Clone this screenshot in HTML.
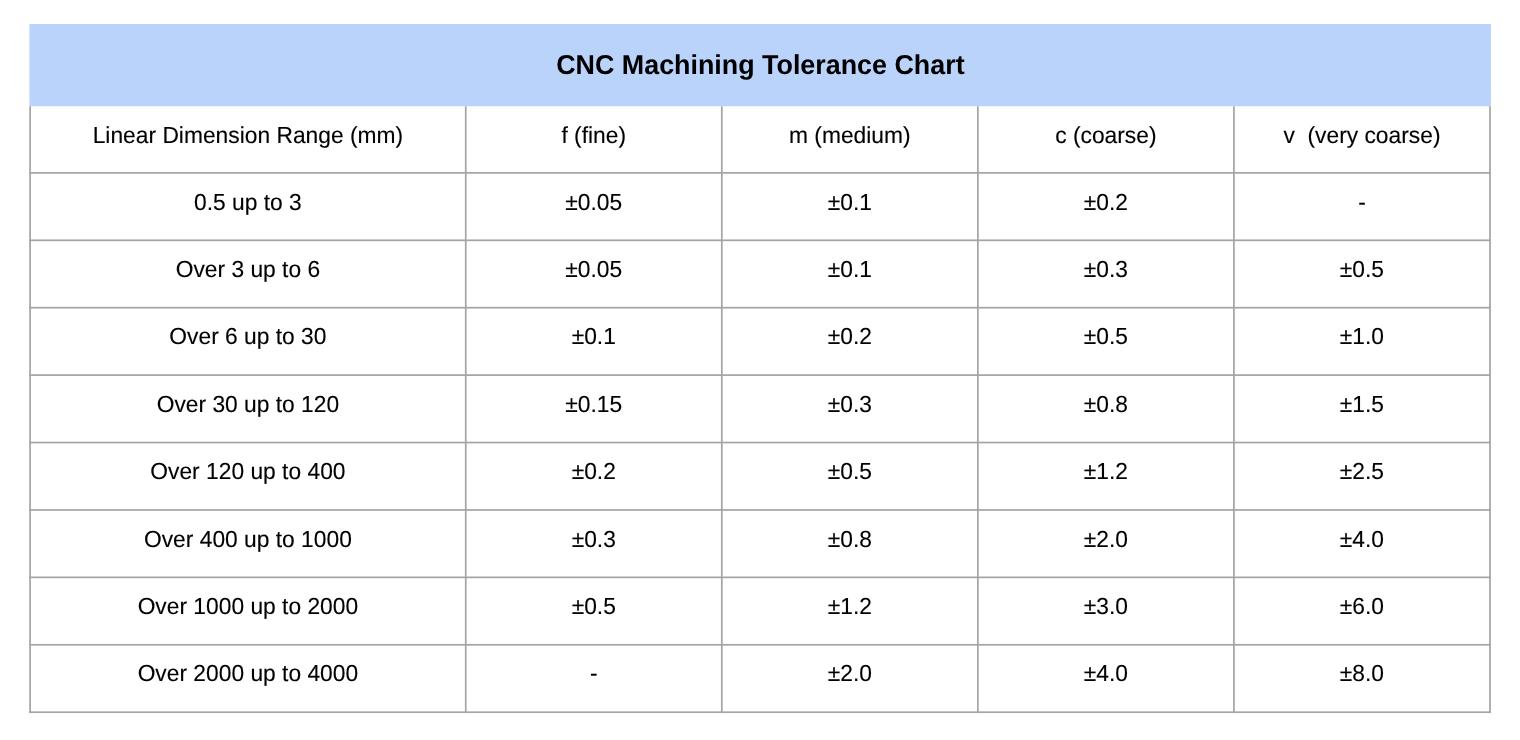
<!DOCTYPE html>
<html lang="en"><head><meta charset="utf-8"><title>CNC Machining Tolerance Chart</title>
<style>
html,body{margin:0;padding:0;background:#fff;}
body{width:1520px;height:740px;position:relative;overflow:hidden;font-family:"Liberation Sans",sans-serif;color:#000;}
svg.g{position:absolute;left:0;top:0;width:1520px;height:740px;}
.ttl{position:absolute;left:30.4px;top:24px;width:1460px;height:82px;line-height:82px;text-align:center;font-weight:bold;font-size:26.87px;white-space:nowrap;text-rendering:geometricPrecision;transform:scaleY(1.02);transform-origin:50% 50%;}
.c{position:absolute;-webkit-text-stroke:0.12px #000;text-align:center;font-size:22.8px;white-space:pre;line-height:30px;height:30px;text-rendering:geometricPrecision;transform:scaleY(1.02);transform-origin:50% 23px;}
</style></head><body>
<svg class="g" width="1520" height="740" viewBox="0 0 1520 740">
<rect x="29.4" y="24.05" width="1461.5" height="82.2" fill="#bad3fb"/>
<g fill="#a4a4a4">
<rect x="29.25" y="106.25" width="1.70" height="606.81"/>
<rect x="464.89" y="106.25" width="1.70" height="606.81"/>
<rect x="720.95" y="106.25" width="1.70" height="606.81"/>
<rect x="977.02" y="106.25" width="1.70" height="606.81"/>
<rect x="1233.08" y="106.25" width="1.70" height="606.81"/>
<rect x="1489.15" y="106.25" width="1.70" height="606.81"/>
<rect x="29.25" y="172.02" width="1461.60" height="1.70"/>
<rect x="29.25" y="239.44" width="1461.60" height="1.70"/>
<rect x="29.25" y="306.85" width="1461.60" height="1.70"/>
<rect x="29.25" y="374.27" width="1461.60" height="1.70"/>
<rect x="29.25" y="441.69" width="1461.60" height="1.70"/>
<rect x="29.25" y="509.11" width="1461.60" height="1.70"/>
<rect x="29.25" y="576.52" width="1461.60" height="1.70"/>
<rect x="29.25" y="643.94" width="1461.60" height="1.70"/>
<rect x="29.25" y="711.36" width="1461.60" height="1.70"/>
</g></svg>
<div class="ttl">CNC Machining Tolerance Chart</div>
<div class="c" style="left:30.10px;width:435.64px;top:120.00px">Linear Dimension Range (mm)</div>
<div class="c" style="left:465.74px;width:256.06px;top:120.00px">f (fine)</div>
<div class="c" style="left:721.80px;width:256.07px;top:120.00px">m (medium)</div>
<div class="c" style="left:977.87px;width:256.06px;top:120.00px">c (coarse)</div>
<div class="c" style="left:1233.93px;width:256.07px;top:120.00px">v  (very coarse)</div>
<div class="c" style="left:30.10px;width:435.64px;top:187.00px">0.5 up to 3</div>
<div class="c" style="left:465.74px;width:256.06px;top:187.00px">±0.05</div>
<div class="c" style="left:721.80px;width:256.07px;top:187.00px">±0.1</div>
<div class="c" style="left:977.87px;width:256.06px;top:187.00px">±0.2</div>
<div class="c" style="left:1233.93px;width:256.07px;top:187.00px">-</div>
<div class="c" style="left:30.10px;width:435.64px;top:254.00px">Over 3 up to 6</div>
<div class="c" style="left:465.74px;width:256.06px;top:254.00px">±0.05</div>
<div class="c" style="left:721.80px;width:256.07px;top:254.00px">±0.1</div>
<div class="c" style="left:977.87px;width:256.06px;top:254.00px">±0.3</div>
<div class="c" style="left:1233.93px;width:256.07px;top:254.00px">±0.5</div>
<div class="c" style="left:30.10px;width:435.64px;top:321.00px">Over 6 up to 30</div>
<div class="c" style="left:465.74px;width:256.06px;top:321.00px">±0.1</div>
<div class="c" style="left:721.80px;width:256.07px;top:321.00px">±0.2</div>
<div class="c" style="left:977.87px;width:256.06px;top:321.00px">±0.5</div>
<div class="c" style="left:1233.93px;width:256.07px;top:321.00px">±1.0</div>
<div class="c" style="left:30.10px;width:435.64px;top:389.00px">Over 30 up to 120</div>
<div class="c" style="left:465.74px;width:256.06px;top:389.00px">±0.15</div>
<div class="c" style="left:721.80px;width:256.07px;top:389.00px">±0.3</div>
<div class="c" style="left:977.87px;width:256.06px;top:389.00px">±0.8</div>
<div class="c" style="left:1233.93px;width:256.07px;top:389.00px">±1.5</div>
<div class="c" style="left:30.10px;width:435.64px;top:456.00px">Over 120 up to 400</div>
<div class="c" style="left:465.74px;width:256.06px;top:456.00px">±0.2</div>
<div class="c" style="left:721.80px;width:256.07px;top:456.00px">±0.5</div>
<div class="c" style="left:977.87px;width:256.06px;top:456.00px">±1.2</div>
<div class="c" style="left:1233.93px;width:256.07px;top:456.00px">±2.5</div>
<div class="c" style="left:30.10px;width:435.64px;top:524.00px">Over 400 up to 1000</div>
<div class="c" style="left:465.74px;width:256.06px;top:524.00px">±0.3</div>
<div class="c" style="left:721.80px;width:256.07px;top:524.00px">±0.8</div>
<div class="c" style="left:977.87px;width:256.06px;top:524.00px">±2.0</div>
<div class="c" style="left:1233.93px;width:256.07px;top:524.00px">±4.0</div>
<div class="c" style="left:30.10px;width:435.64px;top:591.00px">Over 1000 up to 2000</div>
<div class="c" style="left:465.74px;width:256.06px;top:591.00px">±0.5</div>
<div class="c" style="left:721.80px;width:256.07px;top:591.00px">±1.2</div>
<div class="c" style="left:977.87px;width:256.06px;top:591.00px">±3.0</div>
<div class="c" style="left:1233.93px;width:256.07px;top:591.00px">±6.0</div>
<div class="c" style="left:30.10px;width:435.64px;top:658.00px">Over 2000 up to 4000</div>
<div class="c" style="left:465.74px;width:256.06px;top:658.00px">-</div>
<div class="c" style="left:721.80px;width:256.07px;top:658.00px">±2.0</div>
<div class="c" style="left:977.87px;width:256.06px;top:658.00px">±4.0</div>
<div class="c" style="left:1233.93px;width:256.07px;top:658.00px">±8.0</div>
</body></html>
